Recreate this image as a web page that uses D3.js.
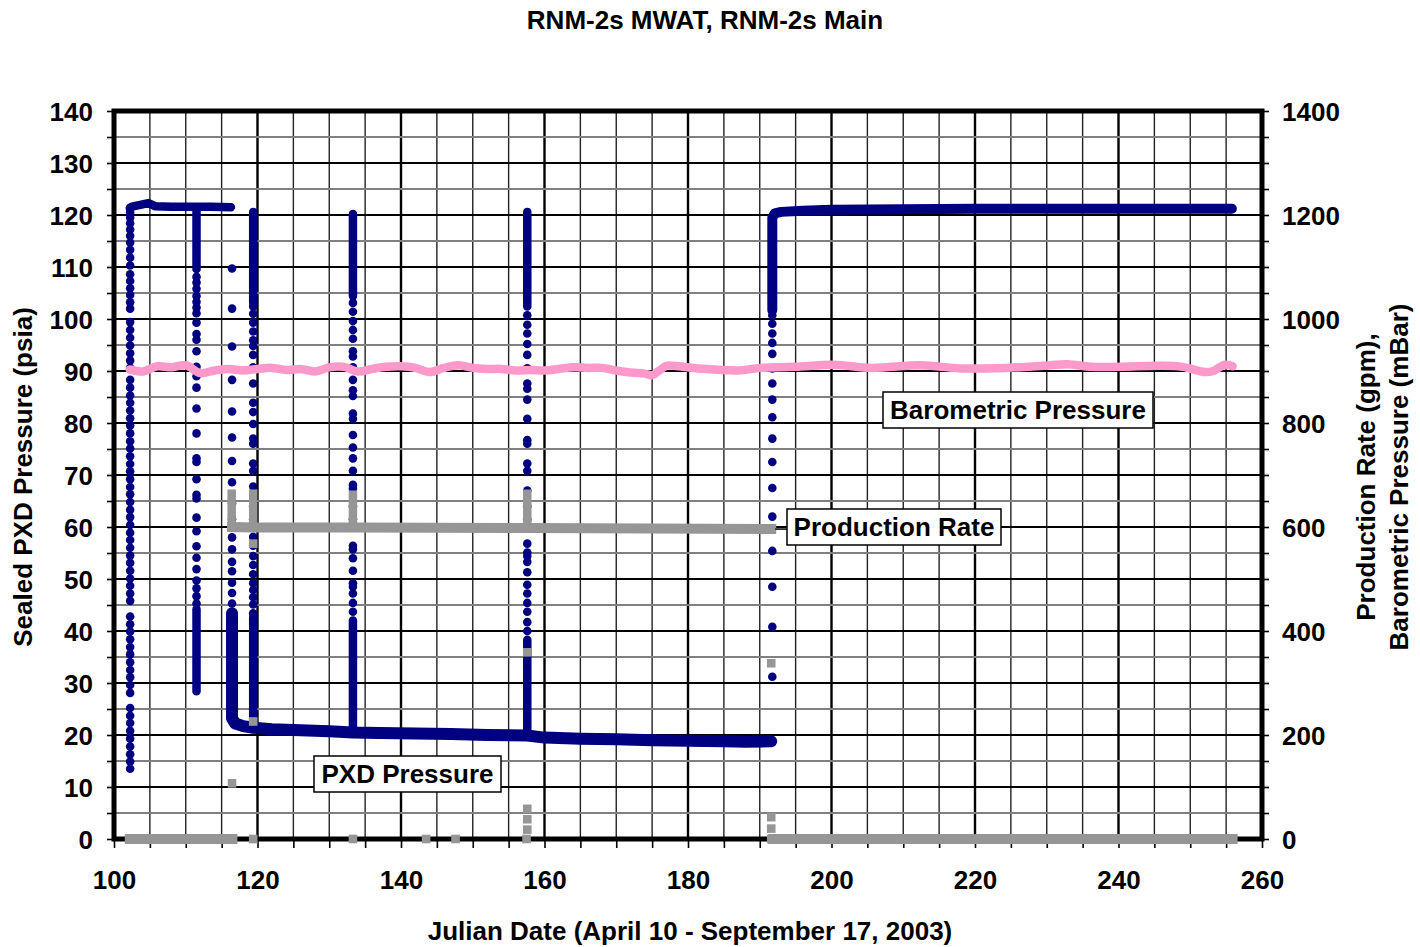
<!DOCTYPE html>
<html>
<head>
<meta charset="utf-8">
<script src="https://cdn.jsdelivr.net/npm/d3@7"></script>
<style>
  body { margin: 0; background: #fff; }
  svg text { font-family: "Liberation Sans", Arial, sans-serif; font-weight: bold; fill: #000; }
</style>
</head>
<body>
<svg id="chart" width="1420" height="947"></svg>
<script>
// ---- Axis labels ----
const dayTickLabels = [100, 120, 140, 160, 180, 200, 220, 240, 260];
const psiTickLabels = [0, 10, 20, 30, 40, 50, 60, 70, 80, 90, 100, 110, 120, 130, 140];
const rateTickLabels = [0, 200, 400, 600, 800, 1000, 1200, 1400];

// ---- Sealed PXD pressure (psia) ----
// steady stretches of readings: [julian day, psia]
const pxdEarlyStatic = [[102.2, 121.3], [102.5, 121.6], [104.8, 122.3], [105.7, 121.7], [108, 121.6], [111, 121.6], [113.5, 121.6], [116.3, 121.5]];
const pxdPumping = [[116.45, 43.4], [116.45, 23.2], [116.9, 22.2], [118, 21.7], [119.4, 21.4], [122, 21.1], [126, 20.9], [130, 20.7],
  [133.3, 20.5], [137, 20.4], [142, 20.3], [147, 20.2], [152, 20.0], [157.6, 19.9], [160, 19.5], [165, 19.3], [170, 19.2],
  [175, 19.0], [180, 18.9], [185, 18.8], [188, 18.7], [191.6, 18.8]];
const pxdLateStatic = [[191.75, 101.7], [191.75, 119.5], [192.1, 120.3], [193, 120.6], [196, 120.8], [200, 121.0], [210, 121.1],
  [220, 121.2], [230, 121.2], [240, 121.2], [250, 121.2], [255.8, 121.2]];
// fast-logged parts of the short shut-ins and restarts: [day, psia]
const pxdDrop111Upper = [[111.5, 121.5], [111.5, 110.3]];
const pxdDrop111Lower = [[111.5, 44.2], [111.5, 28.4]];
const pxdShutIn119Lower = [[119.4, 21.5], [119.4, 42.7]];
const pxdShutIn119Upper = [[119.4, 103.1], [119.4, 120.6]];
const pxdShutIn133Lower = [[133.3, 20.5], [133.3, 42.0]];
const pxdShutIn133Upper = [[133.3, 104.4], [133.3, 120.2]];
const pxdShutIn157Lower = [[157.6, 20.0], [157.6, 38.3]];
const pxdShutIn157Upper = [[157.6, 102.4], [157.6, 120.6]];

// individual readings during the pressure transitions (psia), one day per transition
const recovery102Day = 102.25;
const recovery102 = [121.4, 120.5, 119.5, 118.4, 117.2, 116.0, 114.7, 113.3, 111.8, 110.3, 108.6, 107.3, 105.9, 104.6, 103.2,
  102.0, 99.4, 97.9, 96.4, 94.9, 93.4, 92.0, 90.6, 88.3, 86.8, 85.3, 83.9, 82.4, 80.9, 79.5, 78.0, 76.5, 75.1, 73.6, 72.1,
  70.7, 69.2, 67.7, 66.3, 64.8, 63.3, 61.9, 60.4, 58.9, 57.5, 56.0, 54.5, 53.1, 51.6, 50.1, 48.7, 47.2, 45.8, 42.8, 41.3,
  39.9, 38.4, 36.9, 35.5, 34.0, 32.5, 31.1, 29.6, 28.1, 25.2, 23.7, 22.3, 20.8, 19.3, 17.8, 16.3, 14.9, 13.5];
const drop111Day = 111.5;
const drop111 = [109.6, 108.1, 107.0, 105.8, 104.4, 103.3, 102.2, 101.1, 99.3, 97.1, 96.0, 93.8, 90.8, 89.0, 86.8, 82.8,
  78.0, 73.2, 72.5, 69.2, 66.2, 65.5, 61.8, 59.2, 56.3, 54.1, 51.9, 49.7, 48.2, 46.7, 45.3];
const startup116Day = 116.45;
const startup116 = [109.7, 102.0, 94.7, 88.3, 82.2, 77.2, 72.7, 68.6, 64.5, 61.5, 58.0, 55.7, 53.3, 51.5, 49.3, 47.3, 45.3];
const shutIn119Day = 119.4;
const shutIn119 = [102.4, 101.0, 99.3, 97.6, 95.9, 94.8, 93.1, 90.7, 87.6, 83.9, 82.1, 79.8, 77.0, 76.0, 72.2, 70.8, 67.8,
  64.0, 61.5, 58.1, 56.4, 54.4, 52.7, 50.9, 49.2, 47.9, 46.5, 45.1, 43.4];
const shutIn133Day = 133.3;
const shutIn133 = [103.1, 101.4, 99.6, 97.9, 96.2, 93.8, 92.8, 90.7, 88.3, 86.3, 85.2, 81.8, 80.8, 77.7, 75.3, 73.2, 70.8,
  68.1, 67.4, 64.0, 61.5, 56.4, 55.7, 54.0, 51.6, 49.2, 48.5, 47.2, 45.4, 43.7];
const shutIn157Day = 157.6;
const shutIn157 = [100.7, 98.9, 97.2, 95.2, 93.1, 90.5, 87.6, 86.6, 84.5, 80.8, 76.7, 76.0, 72.2, 70.8, 67.0, 64.0, 61.5,
  56.8, 55.1, 54.4, 53.3, 51.3, 48.9, 47.2, 45.4, 43.7, 41.7, 40.0];
const recovery191Day = 191.75;
const recovery191 = [31.2, 40.8, 48.5, 55.4, 62.0, 67.5, 72.5, 77.0, 81.1, 84.5, 87.6, 90.5, 93.3, 95.4, 97.2, 99.1, 100.7];

// ---- Production rate (gpm) ----
const prodOffEarly = [[102.2, 0], [116.5, 0]];
const prodPumping = [[116.45, 600], [119.4, 599], [133.3, 599], [157.6, 598], [175, 597], [191.6, 596]];
const prodOffLate = [[191.85, 0], [255.9, 0]];
const prodStartSpikes = [
  [[116.4, 600], [116.4, 664]],
  [[119.4, 600], [119.4, 664]],
  [[133.3, 600], [133.3, 662]],
  [[157.6, 600], [157.6, 664]]
];
// single logged rates: [day, gpm]
const prodReadings = [[116.45, 107], [119.4, 568], [119.4, 226], [157.6, 359], [191.6, 338],
  [119.4, 0], [133.3, 0], [143.5, 0], [147.6, 0], [157.5, 0],
  [157.6, 18], [157.6, 38], [157.6, 58], [191.6, 0], [191.6, 20], [191.6, 42]];

// ---- Barometric pressure (mBar) ----
const baroDays = [102.2, 104, 106, 108, 110, 112, 114, 116, 118, 120, 122, 124, 126, 128, 130, 132, 134, 136, 138, 140,
  142, 144, 146, 148, 150, 152, 154, 156, 158, 160, 162, 164, 166, 168, 170, 172, 174, 175, 176, 177, 178, 181.5, 186.9,
  190.1, 194.9, 200.2, 205.6, 212.5, 217.9, 224.3, 229.6, 232.9, 236.1, 240.3, 245.7, 248.9, 252.1, 253.2, 254.8, 255.9];
const baroMbar = [903, 899, 909, 907, 911, 896, 901, 904, 901, 904, 906, 902, 904, 899, 907, 908, 899, 904, 908, 909,
  906, 898, 906, 911, 906, 904, 904, 901, 902, 901, 904, 907, 906, 906, 901, 897, 895, 892, 901, 910, 910, 905, 901,
  906, 908, 912, 906, 911, 905, 906, 910, 913, 908, 908, 910, 908, 898, 900, 912, 909];

// ---- Scales ----
const svg = d3.select("#chart");
const plotLeft = 114, plotRight = 1262, plotTop = 111, plotBottom = 839;
const x = d3.scaleLinear().domain([100, 260]).range([plotLeft, plotRight]);
const y = d3.scaleLinear().domain([0, 140]).range([plotBottom, plotTop]);
const yR = d3.scaleLinear().domain([0, 1400]).range([plotBottom, plotTop]);

svg.append("rect").attr("width", 1420).attr("height", 947).attr("fill", "#fff");

// ---- Grid ----
const grid = svg.append("g");
d3.range(105, 260, 5).forEach(d => {
  const major = d % 20 === 0;
  grid.append("line")
    .attr("x1", x(d)).attr("x2", x(d)).attr("y1", plotTop).attr("y2", plotBottom)
    .attr("stroke", major ? "#000" : "#222")
    .attr("stroke-width", major ? 2.4 : 1.4);
});
d3.range(5, 140, 5).forEach(v => {
  const major = v % 10 === 0;
  grid.append("line")
    .attr("x1", plotLeft).attr("x2", plotRight).attr("y1", y(v)).attr("y2", y(v))
    .attr("stroke", major ? "#000" : "#808080")
    .attr("stroke-width", 2);
});

// ---- Axes ----
function styleAxis(g) {
  g.select(".domain").remove();
  g.selectAll(".tick line").attr("stroke", "#000").attr("stroke-width", 1.6);
  g.selectAll(".tick text").attr("font-size", 26).attr("font-weight", "bold")
    .attr("font-family", "'Liberation Sans', Arial, sans-serif").attr("fill", "#000");
}
svg.append("g").attr("transform", `translate(${plotLeft},0)`)
  .call(d3.axisLeft(y).tickValues(d3.range(0, 141, 5)).tickSize(7).tickPadding(14)
    .tickFormat(v => psiTickLabels.includes(v) ? v : ""))
  .call(styleAxis)
  .call(g => g.selectAll(".tick text").attr("dy", "0.38em"));
svg.append("g").attr("transform", `translate(${plotRight},0)`)
  .call(d3.axisRight(yR).tickValues(d3.range(0, 1401, 50)).tickSize(7).tickPadding(13)
    .tickFormat(v => rateTickLabels.includes(v) ? v : ""))
  .call(styleAxis)
  .call(g => g.selectAll(".tick text").attr("dy", "0.38em"));
svg.append("g").attr("transform", `translate(0,${plotBottom})`)
  .call(d3.axisBottom(x).tickValues(d3.range(100, 261, 5)).tickSize(9).tickPadding(23)
    .tickFormat(v => dayTickLabels.includes(v) ? v : ""))
  .call(styleAxis);

// plot frame
svg.append("rect").attr("x", plotLeft).attr("y", plotTop)
  .attr("width", plotRight - plotLeft).attr("height", plotBottom - plotTop)
  .attr("fill", "none").attr("stroke", "#000").attr("stroke-width", 5);

// ---- PXD pressure ----
const navy = "#000080";
const line = d3.line().x(d => x(d[0])).y(d => y(d[1]));
const pxd = svg.append("g");
const pxdStretches = [
  [pxdEarlyStatic, 8.5], [pxdPumping, 12], [pxdLateStatic, 10],
  [pxdDrop111Upper, 8.5], [pxdDrop111Lower, 8.5],
  [pxdShutIn119Lower, 8.5], [pxdShutIn119Upper, 8.5],
  [pxdShutIn133Lower, 8.5], [pxdShutIn133Upper, 8.5],
  [pxdShutIn157Lower, 8.5], [pxdShutIn157Upper, 8.5]
];
pxdStretches.forEach(([pts, w]) => {
  pxd.append("path").attr("d", line(pts))
    .attr("fill", "none").attr("stroke", navy).attr("stroke-width", w)
    .attr("stroke-linecap", "round").attr("stroke-linejoin", "round");
});
const pxdColumns = [
  [recovery102Day, recovery102], [drop111Day, drop111], [startup116Day, startup116],
  [shutIn119Day, shutIn119], [shutIn133Day, shutIn133], [shutIn157Day, shutIn157],
  [recovery191Day, recovery191]
];
pxdColumns.forEach(([day, vals]) => {
  pxd.selectAll(null).data(vals).enter().append("circle")
    .attr("cx", x(day)).attr("cy", v => y(v)).attr("r", 4.3).attr("fill", navy);
});

// ---- Production rate ----
const grey = "#969696";
const lineR = d3.line().x(d => x(d[0])).y(d => yR(d[1]));
const prod = svg.append("g");
[prodOffEarly, prodPumping, prodOffLate].forEach(pts => {
  prod.append("path").attr("d", lineR(pts)).attr("fill", "none")
    .attr("stroke", grey).attr("stroke-width", 10).attr("stroke-linecap", "square");
});
prodStartSpikes.forEach(pts => {
  prod.append("path").attr("d", lineR(pts)).attr("fill", "none")
    .attr("stroke", grey).attr("stroke-width", 8.5).attr("stroke-linecap", "square");
});
prod.selectAll(null).data(prodReadings).enter().append("rect")
  .attr("x", d => x(d[0]) - 4.3).attr("y", d => yR(d[1]) - 4.3)
  .attr("width", 8.6).attr("height", 8.6).attr("fill", grey);

// ---- Barometric pressure ----
const baro = baroDays.map((d, i) => [d, baroMbar[i]]);
svg.append("path").attr("d", d3.line().curve(d3.curveCatmullRom).x(d => x(d[0])).y(d => yR(d[1]))(baro))
  .attr("fill", "none").attr("stroke", "#FF99CC").attr("stroke-width", 8.5)
  .attr("stroke-linecap", "round").attr("stroke-linejoin", "round");

// ---- Series labels ----
function seriesLabel(text, bx, by, w, h) {
  const g = svg.append("g");
  g.append("rect").attr("x", bx).attr("y", by).attr("width", w).attr("height", h)
    .attr("fill", "#fff").attr("stroke", "#000").attr("stroke-width", 1.5);
  g.append("text").attr("x", bx + w / 2).attr("y", by + h / 2).attr("dy", "0.36em")
    .attr("text-anchor", "middle").attr("font-size", 26).text(text);
}
svg.append("line").attr("x1", x(191.6) + 4).attr("x2", 787)
  .attr("y1", yR(596)).attr("y2", yR(596)).attr("stroke", "#000").attr("stroke-width", 1.5);
seriesLabel("Barometric Pressure", 883, 392, 270, 36);
seriesLabel("Production Rate", 787, 509, 214, 36);
seriesLabel("PXD Pressure", 314, 756, 187, 36);

// ---- Titles ----
svg.append("text").attr("x", 705).attr("y", 29).attr("text-anchor", "middle")
  .attr("font-size", 26).text("RNM-2s MWAT, RNM-2s Main");
svg.append("text").attr("x", 690).attr("y", 940).attr("text-anchor", "middle")
  .attr("font-size", 26).text("Julian Date (April 10 - September 17, 2003)");
svg.append("text").attr("transform", "translate(32,477) rotate(-90)").attr("text-anchor", "middle")
  .attr("font-size", 26).text("Sealed PXD Pressure (psia)");
svg.append("text").attr("transform", "translate(1375,477) rotate(-90)").attr("text-anchor", "middle")
  .attr("font-size", 26).text("Production Rate (gpm),");
svg.append("text").attr("transform", "translate(1408,477) rotate(-90)").attr("text-anchor", "middle")
  .attr("font-size", 26).text("Barometric Pressure (mBar)");
</script>
</body>
</html>
